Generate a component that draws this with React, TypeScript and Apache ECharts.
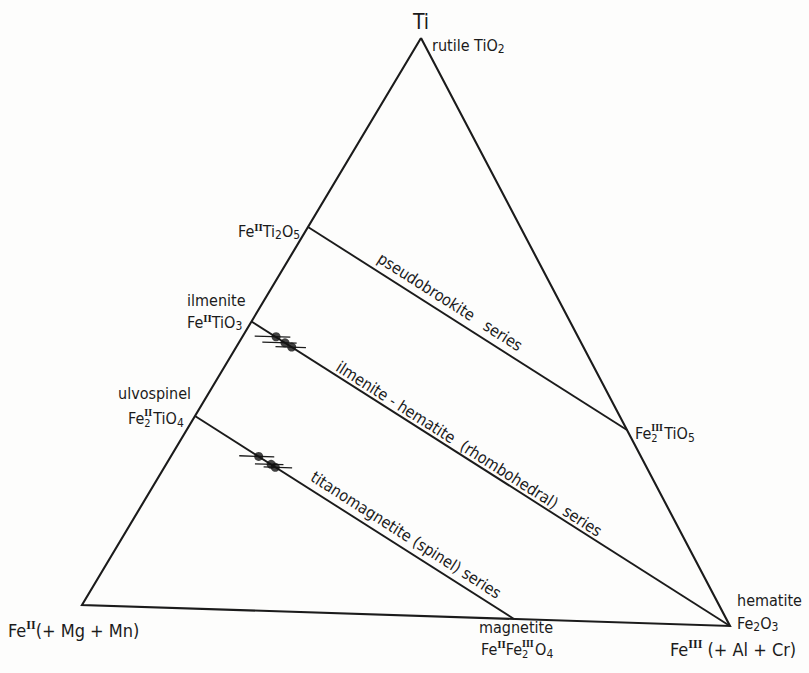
import React, { useEffect, useRef } from 'react';
import * as echarts from 'echarts';

// ---------- data: cation fractions [Ti, Fe(II), Fe(III)] ----------
const apexNames = ['Ti', 'FeII', 'FeIII'];
const apexComps = [
  [1, 0, 0],
  [0, 1, 0],
  [0, 0, 1],
];
const solidSolutionNames = [
  'pseudobrookite series',
  'ilmenite - hematite (rhombohedral) series',
  'titanomagnetite (spinel) series',
];
const solidSolutionStart = [
  [2 / 3, 1 / 3, 0],
  [1 / 2, 1 / 2, 0],
  [1 / 3, 2 / 3, 0],
];
const solidSolutionEnd = [
  [1 / 3, 0, 2 / 3],
  [0, 0, 1],
  [0, 1 / 3, 2 / 3],
];
// analysed samples: Ti fraction, Fe(III) fraction and its range at constant Ti
const sampleTi = [0.475, 0.465, 0.458, 0.267, 0.254, 0.249];
const sampleFe3 = [0.051, 0.07, 0.084, 0.133, 0.159, 0.168];
const sampleFe3Low = [0.018, 0.035, 0.059, 0.103, 0.134, 0.15];
const sampleFe3High = [0.073, 0.088, 0.106, 0.157, 0.178, 0.194];

// ---------- layout ----------
const W = 809;
const H = 673;
const APEX_PX = [
  [421, 38],
  [82, 605],
  [730, 626],
];
const INK = '#1b1b1b';
const FONT = "'Liberation Sans Narrow', 'DejaVu Sans Condensed', 'Liberation Sans', sans-serif";
const SERIF = "'Liberation Serif', 'DejaVu Serif', serif";

const toXY = (c: number[]) => [
  c[0] * APEX_PX[0][0] + c[1] * APEX_PX[1][0] + c[2] * APEX_PX[2][0],
  c[0] * APEX_PX[0][1] + c[1] * APEX_PX[1][1] + c[2] * APEX_PX[2][1],
];
const comp = (ti: number, fe3: number) => [ti, 1 - ti - fe3, fe3];

const FS = 16;
const rich = {
  n: { fontSize: FS, lineHeight: 19, fontFamily: FONT, fill: INK },
  n2: { fontSize: FS, lineHeight: 22, fontFamily: FONT, fill: INK },
  sup: { fontSize: 11, lineHeight: 11, verticalAlign: 'top', fontFamily: SERIF, fontWeight: 'bold', fill: INK },
  sub: { fontSize: 12, lineHeight: 11, verticalAlign: 'bottom', fontFamily: FONT, fill: INK },
  supz: { fontSize: 10, lineHeight: 10, verticalAlign: 'top', fontFamily: SERIF, fontWeight: 'bold', fill: INK, width: 0.01, align: 'left' },
  subw2: { fontSize: 11, lineHeight: 10, verticalAlign: 'bottom', fontFamily: FONT, fill: INK, width: 9, align: 'left' },
  subw3: { fontSize: 11, lineHeight: 10, verticalAlign: 'bottom', fontFamily: FONT, fill: INK, width: 13, align: 'left' },
  b: { fontSize: 18, lineHeight: 22, fontFamily: FONT, fill: INK },
  bsup: { fontSize: 12, lineHeight: 12, verticalAlign: 'top', fontFamily: SERIF, fontWeight: 'bold', fill: INK },
};

const label = (x: number, y: number, text: string, align = 'left') => ({
  type: 'text',
  x,
  y,
  silent: true,
  style: {
    text,
    rich,
    fill: INK,
    fontFamily: FONT,
    fontSize: FS,
    align,
    verticalAlign: 'middle',
  },
});

const App: React.FC = () => {
  const ref = useRef<HTMLDivElement>(null);

  useEffect(() => {
    if (!ref.current) return;
    const chart = echarts.init(ref.current, undefined, { renderer: 'svg' });

    const triangle = [...apexComps, apexComps[0]].map(toXY);
    const ssLines = solidSolutionNames.map((name, i) => ({
      name,
      type: 'line',
      data: [toXY(solidSolutionStart[i]), toXY(solidSolutionEnd[i])],
      symbol: 'none',
      lineStyle: { color: INK, width: 1.9 },
      silent: true,
      z: 2,
    }));
    const points = sampleTi.map((ti, i) => toXY(comp(ti, sampleFe3[i])));
    const bars = sampleTi.map((ti, i) => [
      ...toXY(comp(ti, sampleFe3Low[i])),
      ...toXY(comp(ti, sampleFe3High[i])),
    ]);

    const angleOf = (i: number) => {
      const a = toXY(solidSolutionStart[i]);
      const b = toXY(solidSolutionEnd[i]);
      return -Math.atan2(b[1] - a[1], b[0] - a[0]);
    };

    const lineLabel = (x: number, y: number, text: string, rot: number) => ({
      type: 'text',
      x,
      y,
      rotation: rot,
      silent: true,
      style: {
        text,
        fill: INK,
        fontFamily: FONT,
        fontSize: 16,
        align: 'center',
        verticalAlign: 'middle',
      },
    });

    chart.setOption({
      animation: false,
      backgroundColor: '#fdfdfc',
      grid: { left: 0, right: 0, top: 0, bottom: 0 },
      xAxis: { type: 'value', min: 0, max: W, show: false },
      yAxis: { type: 'value', min: 0, max: H, inverse: true, show: false },
      series: [
        {
          name: 'triangle',
          type: 'line',
          data: triangle,
          symbol: 'none',
          lineStyle: { color: INK, width: 2.1, join: 'miter' },
          silent: true,
          z: 2,
        },
        ...ssLines,
        {
          name: 'error bars',
          type: 'custom',
          coordinateSystem: 'cartesian2d',
          data: bars,
          encode: { x: [0, 2], y: [1, 3] },
          silent: true,
          z: 3,
          renderItem: (_p: any, api: any) => {
            const p1 = api.coord([api.value(0), api.value(1)]);
            const p2 = api.coord([api.value(2), api.value(3)]);
            return {
              type: 'line',
              shape: { x1: p1[0], y1: p1[1], x2: p2[0], y2: p2[1] },
              style: { stroke: INK, lineWidth: 1.3 },
            };
          },
        },
        {
          name: 'samples',
          type: 'scatter',
          data: points,
          symbol: 'circle',
          symbolSize: 9,
          itemStyle: { color: '#111' },
          silent: true,
          z: 4,
        },
      ],
      graphic: {
        elements: [
          {
            type: 'text',
            x: 421,
            y: 22,
            silent: true,
            style: { text: 'Ti', fill: INK, fontFamily: FONT, fontSize: 21, align: 'center', verticalAlign: 'middle' },
          },
          label(432, 45, '{n|rutile TiO}{sub|2}'),
          label(238, 231, '{n|Fe}{sup|II}{n|Ti}{sub|2}{n|O}{sub|5}'),
          label(187, 300, '{n|ilmenite}'),
          label(187, 322, '{n|Fe}{sup|II}{n|TiO}{sub|3}'),
          label(118, 393, '{n|ulvospinel}'),
          label(128, 418, '{n2|Fe}{supz|II}{subw2|2}{n2|TiO}{sub|4}'),
          label(635, 433, '{n2|Fe}{supz|III}{subw3|2}{n2|TiO}{sub|5}'),
          label(737, 600, '{n|hematite}'),
          label(737, 623, '{n|Fe}{sub|2}{n|O}{sub|3}'),
          label(670, 649, '{b|Fe}{bsup|III}{b| (+ Al + Cr)}'),
          label(479, 627, '{n|magnetite}'),
          label(481, 649, '{n2|Fe}{sup|II}{n2|Fe}{supz|III}{subw3|2}{n2|O}{sub|4}'),
          label(8, 630, '{b|Fe}{bsup|II}{b|(+ Mg + Mn)}'),
          lineLabel(450, 302, 'pseudobrookite   series', angleOf(0)),
          lineLabel(469, 449, 'ilmenite - hematite  (rhombohedral)  series', angleOf(1)),
          lineLabel(406, 535, 'titanomagnetite (spinel) series', angleOf(2)),
        ],
      },
    });

    return () => chart.dispose();
  }, []);

  return (
    <div
      ref={ref}
      style={{ position: 'fixed', left: 0, top: 0, width: W, height: H }}
    />
  );
};

export default App;
